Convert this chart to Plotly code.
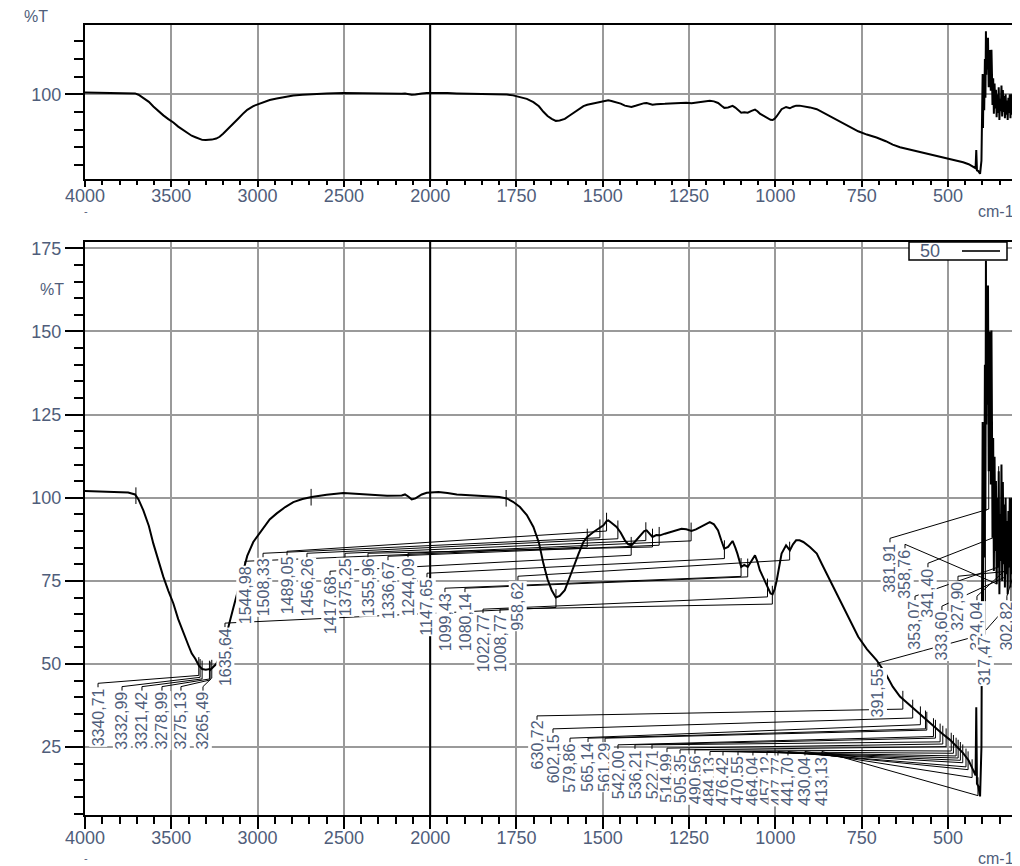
import numpy as np
import plotly.graph_objects as go

# ---------------- data ----------------
wavenumber = [
    4000, 3900, 3800, 3750, 3710, 3690, 3662, 3630, 3604, 3575,
    3546, 3517, 3488, 3460, 3430, 3400, 3382, 3360, 3340, 3333,
    3321, 3300, 3279, 3275, 3265, 3240, 3220, 3200, 3170, 3140,
    3110, 3080, 3060, 3025, 3000, 2967, 2930, 2889, 2840, 2793,
    2740, 2687, 2600, 2503, 2420, 2330, 2250, 2165, 2146, 2125,
    2107, 2085, 2060, 2049, 2020, 1976, 1950, 1923, 1860, 1800,
    1778, 1760, 1740, 1720, 1701, 1685, 1672, 1660, 1648, 1636,
    1625, 1610, 1598, 1585, 1570, 1556, 1545, 1527, 1508, 1498,
    1489, 1484, 1475, 1460, 1448, 1436, 1426, 1417, 1405, 1392,
    1380, 1373, 1364, 1356, 1345, 1334, 1320, 1305, 1290, 1272,
    1258, 1243, 1230, 1218, 1205, 1190, 1178, 1166, 1156, 1148,
    1137, 1124, 1116, 1110, 1099, 1090, 1080, 1069, 1059, 1052,
    1045, 1035, 1025, 1014, 1008, 1002, 996, 989, 982, 969,
    958, 949, 940, 930, 919, 900, 880, 865, 847, 825,
    803, 780, 760, 735, 707, 680, 660, 639, 615, 591,
    565, 542, 518, 494, 475, 456, 440, 427, 420, 418,
    416, 412, 407, 403, 401, 399.5, 398.5, 397, 395, 393,
    391.5, 390, 389, 388, 386, 384, 382, 380, 378, 376,
    374, 372.5, 371, 369, 367, 365, 363, 361, 359, 357,
    355, 353, 351, 349, 347, 345, 343, 341, 339, 337,
    335, 333, 331, 329, 327, 325, 323, 321, 319, 317,
    315, 313, 311, 309, 307, 305, 303, 301,
]
transmittance = [
    102.0, 101.8, 101.7, 101.6, 101.0, 99.5, 96.2, 91.5, 86.2, 81.0,
    76.2, 72.0, 68.2, 63.5, 59.2, 55.5, 53.2, 51.5, 49.5, 49.0,
    48.5, 48.3, 48.5, 48.2, 48.8, 50.0, 52.0, 55.5, 61.0, 67.0,
    73.0, 79.0, 82.5, 86.7, 88.5, 91.2, 93.5, 95.3, 97.2, 98.7,
    99.6, 100.2, 100.9, 101.4, 101.1, 100.7, 100.6, 100.7, 101.0, 100.3,
    99.5, 99.8, 100.8, 101.0, 101.5, 101.7, 101.4, 101.0, 100.6, 100.2,
    99.8, 98.8, 97.2, 94.8, 91.2, 86.5, 80.2, 75.5, 72.2, 70.0,
    70.5, 72.2, 75.5, 79.2, 83.2, 86.7, 88.2, 89.7, 91.0, 91.7,
    93.0, 93.2, 92.5, 91.2, 89.5, 87.2, 86.0, 85.7, 87.0, 88.7,
    90.0, 90.2, 89.0, 88.2, 88.8, 88.7, 89.2, 89.7, 90.2, 90.7,
    90.5, 90.0, 90.5, 91.2, 92.0, 92.7, 92.0, 90.2, 87.0, 84.7,
    85.2, 87.0, 85.0, 83.2, 79.2, 79.8, 79.2, 81.2, 82.7, 80.8,
    78.2, 76.0, 73.7, 71.2, 71.0, 72.5, 75.2, 79.5, 83.2, 85.7,
    84.2, 86.0, 87.2, 87.2, 86.7, 85.2, 83.2, 80.0, 76.2, 71.5,
    67.2, 62.5, 58.2, 54.5, 51.2, 47.0, 43.2, 40.2, 38.0, 35.7,
    33.5, 31.2, 29.2, 27.2, 25.2, 23.2, 21.0, 18.2, 16.5, 37.0,
    14.0, 13.2, 10.2, 25.0, 60.0, 122.8, 62.0, 115.0, 82.0, 140.0,
    96.0, 171.3, 122.0, 160.0, 128.0, 163.8, 108.0, 150.0, 142.0, 104.0,
    150.3, 123.0, 88.0, 118.0, 78.0, 112.3, 84.0, 105.0, 74.0, 100.0,
    79.0, 108.0, 71.0, 95.0, 81.0, 110.0, 75.0, 104.7, 80.0, 98.0,
    73.0, 100.0, 77.0, 93.0, 71.0, 96.0, 79.0, 100.0, 73.0, 98.0,
    100.0, 77.0, 94.0, 75.0, 92.0, 80.0, 90.0, 84.0,
]
assert len(wavenumber) == len(transmittance)

x_tick_values = [4000, 3500, 3000, 2500, 2000, 1750, 1500, 1250, 1000, 750, 500]
y_ticks_bottom = [25, 50, 75, 100, 125, 150, 175]
y_ticks_top = [100]

# peak labels (text as printed) and unlabeled peak marks
peak_labels = [
    "3340,71", "3332,99", "3321,42", "3278,99", "3275,13", "3265,49",
    "1635,64",
    "1544,98", "1508,33", "1489,05", "1456,26", "1417,68", "1375,25",
    "1355,96", "1336,67", "1244,09", "1147,65", "1099,43", "1080,14",
    "1022,77", "1008,77", "958,62",
    "630,72", "602,15", "579,86", "565,14", "561,29", "542,00", "536,21",
    "522,71", "514,99", "505,35", "490,56", "484,13", "476,42", "470,55",
    "464,04", "457,12", "447,77", "441,70", "430,04", "413,13",
    "391,55",
    "381,91", "358,76", "353,07", "341,40", "333,60", "327,90",
    "324,04", "317,47", "302,82",
]
extra_peaks = [3705, 2690, 1780]

# label placement (layout only): x in axis units, top of label in %T units
label_pos_x = [
    0.151, 0.429, 0.660, 0.892, 1.112, 1.367,
    1.622,
    1.854, 2.063, 2.341, 2.572, 2.839, 3.013,
    3.279, 3.511, 3.743, 3.963, 4.171, 4.403,
    4.612, 4.809, 5.017,
    5.238, 5.423, 5.620, 5.829, 6.026, 6.176, 6.373,
    6.570, 6.744, 6.895, 7.068, 7.242, 7.393, 7.567,
    7.740, 7.903, 8.030, 8.146, 8.343, 8.540,
    9.189,
    9.328, 9.502, 9.618, 9.768, 9.930, 10.116,
    10.336, 10.429, 10.683,
]
label_pos_top = [
    43.0, 42.0, 42.0, 42.0, 42.0, 42.0,
    61.1,
    79.7, 82.1, 82.7, 82.1, 76.7, 82.1,
    82.1, 81.2, 82.1, 76.1, 71.6, 71.6,
    65.3, 65.3, 75.2,
    33.2, 29.3, 26.5, 26.5, 26.5, 24.5, 24.5,
    24.5, 23.5, 23.0, 23.0, 22.5, 22.5, 22.5,
    22.5, 22.5, 22.5, 22.5, 22.5, 22.5,
    49.1,
    86.6, 84.8, 69.2, 79.1, 66.2, 75.2,
    69.2, 58.7, 69.2,
]


# ---------------- helpers ----------------
def to_axis(w):
    """Instrument axis: 500 cm-1 per division above 2000, 250 below."""
    w = np.asarray(w, dtype=float)
    return np.where(w >= 2000, (4000 - w) / 500.0, 4 + (2000 - w) / 250.0)


# the page body has an 8 px margin; the figure fills the rest of the window
OFF = 8
W, H = 1020 - OFF, 866 - OFF


def PX(x):
    return (x - OFF) / W


def PY(y):
    return 1 - (y - OFF) / H


u = to_axis(wavenumber)
t = np.asarray(transmittance, dtype=float)

TEXT = "#4f5d7a"
FONT = "Liberation Sans, Arial, sans-serif"
GRID = "#9a9a9a"

fig = go.Figure()

# spectrum, overview (top) and annotated (bottom)
for xa, ya in (("x", "y"), ("x2", "y2")):
    fig.add_trace(go.Scatter(
        x=u, y=t, xaxis=xa, yaxis=ya, mode="lines",
        line=dict(color="black", width=2), showlegend=False,
        hoverinfo="skip", name="50",
    ))

# leader lines and peak ticks
peak_w = [float(s.replace(",", ".")) for s in peak_labels]
peak_u = to_axis(peak_w)
peak_t = np.interp(peak_u, u, t)
lx, ly = [], []
for pu, pt, lu, lt in zip(peak_u, peak_t, label_pos_x, label_pos_top):
    yj = min(pt - 3.0, lt + 10.0)
    lx += [lu, lu, pu, pu, None]
    ly += [lt, lt + 1.2, yj, pt + 2.5, None]
for pu, pt in zip(to_axis(extra_peaks), np.interp(to_axis(extra_peaks), u, t)):
    lx += [pu, pu, None]
    ly += [pt - 2.5, pt + 2.5, None]
fig.add_trace(go.Scatter(
    x=lx, y=ly, xaxis="x2", yaxis="y2", mode="lines",
    line=dict(color="black", width=1), showlegend=False, hoverinfo="skip",
))

ann = []
for txt, lu, lt in zip(peak_labels, label_pos_x, label_pos_top):
    ann.append(dict(
        x=lu, y=lt, xref="x2", yref="y2", text=txt, textangle=-90,
        showarrow=False, xanchor="center", yanchor="top",
        font=dict(family=FONT, size=16, color=TEXT),
        bgcolor="white", borderpad=0,
    ))

small = dict(family=FONT, size=16, color=TEXT)
dash = dict(family=FONT, size=11, color=TEXT)
ann += [
    dict(x=PX(36), y=PY(16), xref="paper", yref="paper", text="%T",
         showarrow=False, xanchor="center", yanchor="middle", font=small),
    dict(x=PX(66), y=162.5, xref="paper", yref="y2", text="%T",
         showarrow=False, xanchor="right", yanchor="middle", font=small),
    dict(x=PX(1016), y=PY(212), xref="paper", yref="paper", text="cm-1",
         showarrow=False, xanchor="right", yanchor="middle", font=small),
    dict(x=PX(1016), y=PY(858), xref="paper", yref="paper", text="cm-1",
         showarrow=False, xanchor="right", yanchor="middle", font=small),
    dict(x=PX(86), y=PY(211), xref="paper", yref="paper", text="-",
         showarrow=False, xanchor="center", yanchor="middle", font=dash),
    dict(x=PX(86), y=PY(858), xref="paper", yref="paper", text="-",
         showarrow=False, xanchor="center", yanchor="middle", font=dash),
    dict(x=PX(930), y=PY(251), xref="paper", yref="paper", text="50",
         showarrow=False, yanchor="middle", xanchor="center",
         font=dict(family=FONT, size=18, color=TEXT)),
]

shapes = [
    # black 2000 cm-1 divider lines
    dict(type="line", xref="x", yref="y domain", x0=4, x1=4, y0=0, y1=1,
         line=dict(color="black", width=2)),
    dict(type="line", xref="x2", yref="y2 domain", x0=4, x1=4, y0=0, y1=1,
         line=dict(color="black", width=2)),
    # legend box
    dict(type="rect", xref="paper", yref="paper",
         x0=PX(909), x1=PX(1007), y0=PY(260), y1=PY(242),
         line=dict(color="black", width=1.5), fillcolor="white", layer="above"),
    dict(type="line", xref="paper", yref="paper",
         x0=PX(962), x1=PX(1000), y0=PY(251), y1=PY(251),
         line=dict(color="#333", width=2), layer="above"),
]

tick_u = to_axis(x_tick_values)
tick_txt = [str(v) for v in x_tick_values]

xcommon = dict(
    range=[0, 10.8], tickmode="array", tickvals=tick_u, ticktext=tick_txt,
    showgrid=True, gridcolor=GRID, gridwidth=1.5, automargin=False,
    showline=True, linecolor="black", linewidth=2, mirror=True,
    ticks="outside", tickcolor="black", zeroline=False,
    tickfont=dict(family=FONT, size=18, color=TEXT),
    domain=[PX(85), PX(1017)],
)
ycommon = dict(
    tickmode="array", automargin=False,
    showgrid=True, gridcolor=GRID, gridwidth=1.5, zeroline=False,
    showline=True, linecolor="black", linewidth=2, mirror=True,
    ticks="outside", ticklen=18, tickwidth=1.5, tickcolor="black",
    tickfont=dict(family=FONT, size=18, color=TEXT),
)

fig.update_layout(
    width=W, height=H,
    margin=dict(l=0, r=0, t=0, b=0, autoexpand=False),
    paper_bgcolor="white", plot_bgcolor="white",
    showlegend=False,
    xaxis=dict(**xcommon, anchor="y", ticklen=6, tickwidth=1.5,
               ticklabelstandoff=-7,
               minor=dict(dtick=0.2, tick0=0, ticks="outside", ticklen=4,
                          tickcolor="black", showgrid=False)),
    yaxis=dict(**ycommon, domain=[PY(179), PY(25)], range=[4.3, 178.3],
               anchor="x", tickvals=y_ticks_top,
               ticktext=[str(v) for v in y_ticks_top],
               minor=dict(dtick=20, tick0=0, ticks="outside", ticklen=9,
                          tickcolor="black", showgrid=False)),
    xaxis2=dict(**xcommon, anchor="y2", ticklen=12, tickwidth=1.5,
                ticklabelstandoff=-7,
                minor=dict(dtick=0.2, tick0=0, ticks="outside", ticklen=7,
                           tickcolor="black", showgrid=False)),
    yaxis2=dict(**ycommon, domain=[PY(815), PY(241.7)], range=[4.6, 177],
                anchor="x2", tickvals=y_ticks_bottom,
                ticktext=[str(v) for v in y_ticks_bottom],
                minor=dict(dtick=5, tick0=0, ticks="outside", ticklen=9,
                           tickcolor="black", showgrid=False)),
    annotations=ann,
    shapes=shapes,
)

fig.write_html("out.html")
